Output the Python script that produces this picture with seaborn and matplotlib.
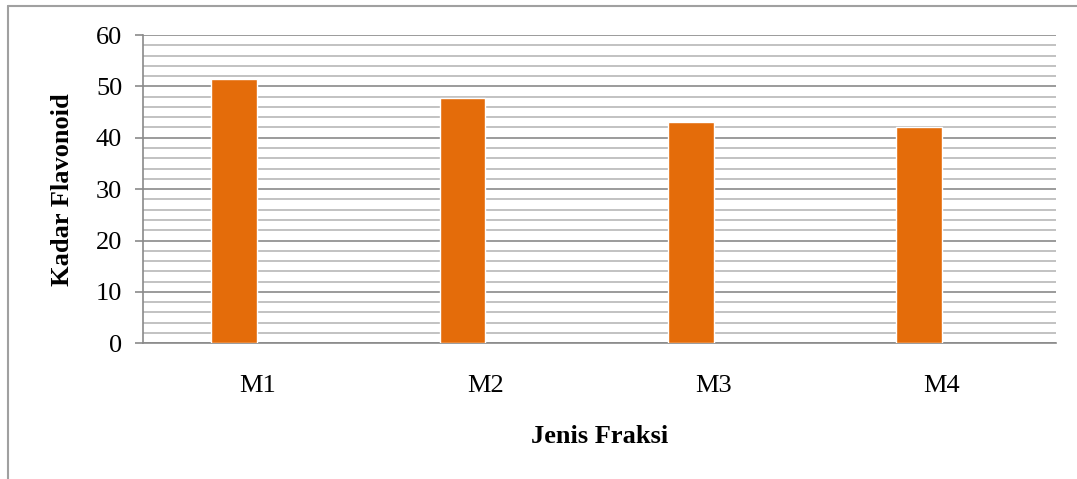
import matplotlib
matplotlib.use("Agg")
import matplotlib.pyplot as plt
from matplotlib.ticker import MultipleLocator
from matplotlib.lines import Line2D
import seaborn as sns
import pandas as pd
import numpy as np

categories = ["M1", "M2", "M3", "M4"]
values = [51.4, 47.7, 43.0, 42.0]
empty_series = [np.nan, np.nan, np.nan, np.nan]  # hidden second series (as in the source chart)
series_names = ["Kadar Flavonoid", "Kosong"]
yticks = [0, 10, 20, 30, 40, 50, 60]

sns.set_theme(style="white")
plt.rcParams['font.family'] = ['Liberation Serif', 'DejaVu Serif']
plt.rcParams['text.color'] = 'black'
plt.rcParams['axes.labelcolor'] = 'black'
plt.rcParams['xtick.color'] = 'black'
plt.rcParams['ytick.color'] = 'black'

df = pd.DataFrame({
    "Jenis Fraksi": categories * 2,
    "Kadar Flavonoid": values + empty_series,
    "Seri": [series_names[0]] * 4 + [series_names[1]] * 4,
})

fig = plt.figure(figsize=(10.77, 4.79), dpi=100)
ax = fig.add_axes([143/1077, 1 - 343.3/479, (1056 - 143)/1077, (343.3 - 35)/479])

sns.barplot(data=df, x="Jenis Fraksi", y="Kadar Flavonoid", hue="Seri",
            hue_order=series_names, palette=["#E46C0A", "#E46C0A"],
            saturation=1, width=0.4, gap=0, dodge=True, legend=False,
            ax=ax, zorder=3)

ax.set_ylim(0, 60)
ax.set_xlim(-0.5, 3.5)
ax.set_yticks(yticks)
ax.yaxis.set_minor_locator(MultipleLocator(2))
ax.grid(which="major", axis="y", color="#8a8a8a", linewidth=1.2, zorder=0)
ax.grid(which="minor", axis="y", color="#b8b8b8", linewidth=1.2, zorder=0)
ax.grid(axis="x", visible=False)
ax.set_axisbelow(True)

for s in ["top", "right"]:
    ax.spines[s].set_visible(False)
for s in ["left", "bottom"]:
    ax.spines[s].set_color("#8a8a8a")
    ax.spines[s].set_linewidth(1.2)

ax.tick_params(axis="y", which="major", length=6, width=1.2, color="#8a8a8a",
               labelcolor="black", labelsize=19, pad=9, left=True)
ax.tick_params(axis="y", which="minor", length=0)
ax.tick_params(axis="x", length=0, labelsize=19, labelcolor="black", pad=23)

ax.set_xlabel("Jenis Fraksi", fontsize=19, fontweight="bold", labelpad=20, color="black")
ax.set_ylabel("Kadar Flavonoid", fontsize=19, fontweight="bold", labelpad=16, color="black")

# outer chart-area border (top and left visible)
fig.add_artist(Line2D([8/1077, 1.0], [1 - 5.5/479, 1 - 5.5/479], transform=fig.transFigure,
                      color="#a0a0a0", linewidth=1.5))
fig.add_artist(Line2D([8/1077, 8/1077], [0, 1 - 5.5/479], transform=fig.transFigure,
                      color="#a0a0a0", linewidth=1.5))

fig.savefig("out.png", dpi=100)
